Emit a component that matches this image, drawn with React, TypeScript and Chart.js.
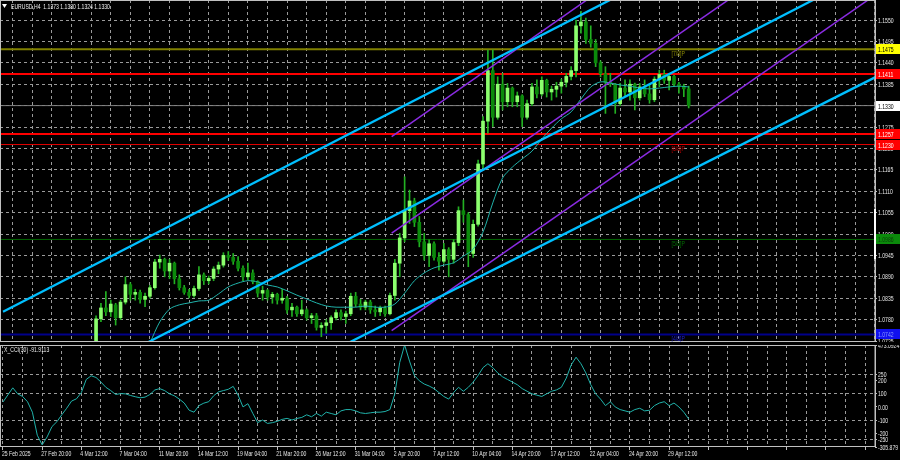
import React, { useEffect, useRef } from "react";
import { Chart, registerables } from "chart.js";

Chart.register(...registerables);

// ---------------- data ----------------
const symbolName = "EURUSD,H4";
const timeLabels = [
  "25 Feb 2025", "27 Feb 20:00", "4 Mar 12:00", "7 Mar 04:00", "11 Mar 20:00", "14 Mar 12:00",
  "19 Mar 04:00", "21 Mar 20:00", "26 Mar 12:00", "31 Mar 04:00", "2 Apr 20:00", "7 Apr 12:00",
  "10 Apr 04:00", "14 Apr 20:00", "17 Apr 12:00", "22 Apr 04:00", "24 Apr 20:00", "29 Apr 12:00",
];
const timeLabelEveryBars = 16;
const gridEveryBars = 8;
const firstVisibleBar = -1.225;
const lastVisibleBar = 356.07;

const priceAxisMin = 1.07225;
const priceAxisMax = 1.16014;
const priceTicks = [
  1.0725, 1.078, 1.0835, 1.089, 1.0945, 1.1, 1.1055, 1.111, 1.1165, 1.122, 1.1275, 1.133,
  1.1385, 1.144, 1.1495, 1.155,
];

const candleFirstBar = 38;
const candleStepBars = 2;
const opens = [
  1.0680, 1.0782, 1.0810, 1.0800, 1.0818, 1.0785, 1.0825, 1.0870, 1.0845, 1.0850,
  1.0832, 1.0840, 1.0862, 1.0928, 1.0935, 1.0905, 1.0925, 1.0885, 1.0862, 1.0850,
  1.0842, 1.0860, 1.0895, 1.0880, 1.0886, 1.0910, 1.0920, 1.0945, 1.0940, 1.0930,
  1.0912, 1.0890, 1.0900, 1.0878, 1.0848, 1.0855, 1.0838, 1.0845, 1.0830, 1.0835,
  1.0805, 1.0812, 1.0795, 1.0805, 1.0785, 1.0790, 1.0760, 1.0765, 1.0772, 1.0785,
  1.0798, 1.0788, 1.0795, 1.0840, 1.0820, 1.0812, 1.0825, 1.0805, 1.0800, 1.0810,
  1.0795, 1.0842, 1.0925, 1.0990, 1.1060, 1.1085, 1.1030, 1.0980, 1.0945, 1.0975,
  1.0940, 1.0930, 1.0960, 1.0935, 1.0978, 1.1060, 1.1050, 1.0950, 1.1025, 1.1180,
  1.1290, 1.1420, 1.1300, 1.1385, 1.1340, 1.1375, 1.1340, 1.1355, 1.1300, 1.1335,
  1.1378, 1.1360, 1.1395, 1.1365, 1.1372, 1.1380, 1.1390, 1.1405, 1.1420, 1.1535,
  1.1545, 1.1500, 1.1490, 1.1440, 1.1412, 1.1390, 1.1385, 1.1335, 1.1375, 1.1365,
  1.1385, 1.1350, 1.1378, 1.1360, 1.1345, 1.1398, 1.1410, 1.1395, 1.1405, 1.1385,
  1.1380, 1.1373,
];
const highs = [
  1.0790, 1.0822, 1.0852, 1.0830, 1.0822, 1.0830, 1.0890, 1.0875, 1.0858, 1.0856,
  1.0848, 1.0868, 1.0935, 1.0946, 1.0938, 1.0935, 1.0928, 1.0895, 1.0868, 1.0858,
  1.0866, 1.0916, 1.0900, 1.0892, 1.0916, 1.0928, 1.0952, 1.0955, 1.0950, 1.0942,
  1.0918, 1.0925, 1.0908, 1.0880, 1.0866, 1.0858, 1.0850, 1.0848, 1.0858, 1.0840,
  1.0822, 1.0815, 1.0830, 1.0808, 1.0796, 1.0796, 1.0772, 1.0780, 1.0790, 1.0805,
  1.0805, 1.0802, 1.0848, 1.0850, 1.0832, 1.0830, 1.0830, 1.0815, 1.0815, 1.0815,
  1.0848, 1.0935, 1.1002, 1.1147, 1.1113, 1.1092, 1.1045, 1.1002, 1.0985, 1.0980,
  1.0952, 1.0976, 1.0965, 1.0985, 1.1070, 1.1087, 1.1055, 1.1036, 1.1190, 1.1302,
  1.1473, 1.1473, 1.1404, 1.1413, 1.1387, 1.1378, 1.1365, 1.1358, 1.1344, 1.1387,
  1.1396, 1.1404, 1.1398, 1.1380, 1.1390, 1.1398, 1.1413, 1.1430, 1.1550, 1.1572,
  1.1555, 1.1535, 1.1500, 1.1445, 1.1430, 1.1413, 1.1387, 1.1387, 1.1396, 1.1396,
  1.1388, 1.1387, 1.1396, 1.1385, 1.1404, 1.1421, 1.1421, 1.1413, 1.1408, 1.1390,
  1.1385, 1.1380,
];
const lows = [
  1.0670, 1.0775, 1.0790, 1.0788, 1.0766, 1.0780, 1.0820, 1.0830, 1.0830, 1.0822,
  1.0813, 1.0835, 1.0858, 1.0912, 1.0890, 1.0885, 1.0872, 1.0856, 1.0845, 1.0836,
  1.0838, 1.0855, 1.0870, 1.0872, 1.0880, 1.0898, 1.0915, 1.0932, 1.0922, 1.0905,
  1.0880, 1.0882, 1.0872, 1.0838, 1.0830, 1.0830, 1.0822, 1.0820, 1.0822, 1.0796,
  1.0788, 1.0788, 1.0790, 1.0779, 1.0770, 1.0753, 1.0736, 1.0745, 1.0755, 1.0779,
  1.0779, 1.0770, 1.0790, 1.0813, 1.0805, 1.0805, 1.0796, 1.0788, 1.0790, 1.0788,
  1.0792, 1.0830, 1.0890, 1.0980, 1.1027, 1.1019, 1.0967, 1.0933, 1.0916, 1.0933,
  1.0907, 1.0925, 1.0890, 1.0925, 1.0970, 1.1030, 1.0916, 1.0940, 1.1020, 1.1170,
  1.1259, 1.1276, 1.1295, 1.1319, 1.1327, 1.1327, 1.1327, 1.1276, 1.1295, 1.1330,
  1.1350, 1.1355, 1.1352, 1.1344, 1.1352, 1.1362, 1.1378, 1.1396, 1.1404, 1.1516,
  1.1490, 1.1480, 1.1430, 1.1404, 1.1310, 1.1379, 1.1310, 1.1330, 1.1353, 1.1344,
  1.1319, 1.1344, 1.1353, 1.1336, 1.1340, 1.1379, 1.1387, 1.1370, 1.1379, 1.1362,
  1.1353, 1.1324,
];
const closes = [
  1.0782, 1.0810, 1.0800, 1.0820, 1.0785, 1.0825, 1.0870, 1.0845, 1.0850, 1.0832,
  1.0840, 1.0862, 1.0928, 1.0935, 1.0905, 1.0925, 1.0885, 1.0862, 1.0850, 1.0842,
  1.0860, 1.0895, 1.0880, 1.0886, 1.0910, 1.0920, 1.0945, 1.0940, 1.0930, 1.0912,
  1.0890, 1.0900, 1.0878, 1.0848, 1.0855, 1.0838, 1.0845, 1.0830, 1.0835, 1.0805,
  1.0812, 1.0795, 1.0805, 1.0785, 1.0790, 1.0760, 1.0765, 1.0772, 1.0785, 1.0798,
  1.0788, 1.0795, 1.0840, 1.0820, 1.0812, 1.0825, 1.0805, 1.0800, 1.0810, 1.0795,
  1.0842, 1.0925, 1.0990, 1.1060, 1.1085, 1.1030, 1.0980, 1.0945, 1.0975, 1.0940,
  1.0930, 1.0960, 1.0935, 1.0978, 1.1060, 1.1050, 1.0950, 1.1025, 1.1180, 1.1290,
  1.1420, 1.1300, 1.1385, 1.1340, 1.1375, 1.1340, 1.1355, 1.1300, 1.1335, 1.1378,
  1.1360, 1.1395, 1.1365, 1.1372, 1.1380, 1.1390, 1.1405, 1.1420, 1.1535, 1.1545,
  1.1500, 1.1490, 1.1440, 1.1412, 1.1390, 1.1385, 1.1335, 1.1375, 1.1365, 1.1385,
  1.1350, 1.1378, 1.1360, 1.1345, 1.1398, 1.1410, 1.1395, 1.1405, 1.1385, 1.1380,
  1.1373, 1.1330,
];

const maFirstBar = 60;
const maStepBars = 4;
const maValues = [
  1.0720, 1.0774, 1.0807, 1.0818, 1.0823, 1.0828, 1.0830, 1.0846, 1.0864, 1.0874,
  1.0880, 1.0877, 1.0869, 1.0864, 1.0854, 1.0843, 1.0833, 1.0823, 1.0815, 1.0812,
  1.0812, 1.0812, 1.0815, 1.0812, 1.0812, 1.0820, 1.0848, 1.0880, 1.0900, 1.0913,
  1.0920, 1.0926, 1.0943, 1.0961, 1.1005, 1.1080, 1.1144, 1.1172, 1.1193, 1.1213,
  1.1244, 1.1272, 1.1296, 1.1314, 1.1347, 1.1378, 1.1391, 1.1388, 1.1383, 1.1380,
  1.1375, 1.1373, 1.1375, 1.1378, 1.1380, 1.1378,
];

const cciName = "X_CCI(30)";
const cciFirstBar = 0;
const cciStepBars = 2;
const cciValues = [
  38, 92, 146, 100, 80, 40, -40, -216, -290, -229,
  -150, -113, -60, -10, 45, 62, 110, 210, 238, 225,
  190, 150, 125, 95, 102, 100, 88, 78, 70, 75,
  95, 130, 140, 125, 100, 85, 60, 30, -25, -40,
  10, 29, 40, 85, 115, 125, 135, 157, 90, 0,
  25, -49, -120, -100, -126, -120, -110, -95, -87, -100,
  -88, -80, -60, -75, -50, -70, -40, -50, -60, -30,
  -20, -20, -30, -45, -50, -45, -40, -40, -35, -20,
  100, 340, 473.0924, 350, 240, 200, 175, 160, 140, 110,
  80, 60, 110, 150, 120, 150, 190, 240, 300, 330,
  300, 260, 230, 210, 190, 170, 140, 120, 100, 90,
  80, 100, 120, 130, 150, 220, 320, 380, 330, 260,
  170, 100, 60, 10, 40, 0, -20, -30, -40, -20,
  -10, -30, -25, 10, 30, 40, 10, 30, 0, -40,
  -91.9113,
];
const cciAxisMin = -305.879;
const cciAxisMax = 473.0924;
const cciTicks = [473.0924, 250, 200, 100, 0, -100, -200, -250, -305.879];
const cciTickLabels = ["473.0924", "250", "200", "100", "0.00", "-100", "-200", "-250", "-305.879"];
const cciGridLevels = [250, 100, -100, -250];

const levelPrices = [1.1475, 1.1411, 1.133, 1.1257, 1.123, 1.0986, 1.0742];
const levelLabels = ["1.1475", "1.1411", "1.1330", "1.1257", "1.1230", "1.0986", "1.0742"];
const murreyNames = ["[7/8]P", "[6/8]P", "[5/8]P", "[4/8]P"];
const murreyPrices = [1.1475, 1.123, 1.0986, 1.0742];
const murreyLabelBar = 273;

const cyanChannelBars = [[0, 360], [0, 360], [100, 360]];
const cyanChannelPrices = [[1.08, 1.1964], [1.053, 1.1696], [1.059, 1.1415]];
const violetChannelBars = [[158.7, 360], [158.7, 360], [158.7, 360]];
const violetChannelPrices = [[1.125, 1.2138], [1.1002, 1.188], [1.0752, 1.1631]];

// ---------------- styles ----------------
const FONT = "'Liberation Sans', Arial, sans-serif";
const FONT_PX = 7.5;
const SQUEEZE = 0.68;
const TEXT = "#e6e6e6";
const GRID = "#9a9a9a";
const FRAME = "#c0c0c0";
const levelStyles = [
  { color: "#808000", width: 2, bg: "#ffff00", fg: "#000000" },
  { color: "#ff0000", width: 2, bg: "#ff0000", fg: "#ffffff" },
  { color: "#808080", width: 1, bg: "#ffffff", fg: "#000000" },
  { color: "#ff0000", width: 2, bg: "#ff0000", fg: "#ffffff" },
  { color: "#e00000", width: 1, bg: "#ff0000", fg: "#ffffff" },
  { color: "#006400", width: 1, bg: "#0b8a0b", fg: "#0b3d0b" },
  { color: "#00008b", width: 2, bg: "#1010ee", fg: "#8a9aff" },
];
const murreyColors = ["#909000", "#c00000", "#007000", "#2020d0"];

const gridBars: number[] = [];
for (let b = 0; b <= lastVisibleBar; b += gridEveryBars) gridBars.push(b);

function squeezedText(ctx: CanvasRenderingContext2D, text: string, x: number, y: number, color: string) {
  ctx.save();
  ctx.translate(x, y);
  ctx.scale(SQUEEZE, 1);
  ctx.font = `${FONT_PX}px ${FONT}`;
  ctx.textAlign = "left";
  ctx.textBaseline = "middle";
  ctx.fillStyle = color;
  ctx.fillText(text, 0, 0);
  ctx.restore();
}

export default function App() {
  const mainRef = useRef<HTMLCanvasElement>(null);
  const cciRef = useRef<HTMLCanvasElement>(null);

  useEffect(() => {
    const candleBars = opens.map((_, k) => candleFirstBar + k * candleStepBars);
    const bodyColors = opens.map((o, k) => (closes[k] >= o ? "#8cff6e" : "#0b8a0b"));

    const lineDs = (pts: { x: number; y: number }[], color: string, width: number, order: number, tension = 0) => ({
      type: "line" as const,
      data: pts,
      borderColor: color,
      borderWidth: width,
      pointRadius: 0,
      tension,
      order,
    });

    const datasets: any[] = [];
    levelPrices.forEach((p, i) => {
      datasets.push(
        lineDs([{ x: firstVisibleBar - 5, y: p }, { x: lastVisibleBar + 5, y: p }], levelStyles[i].color, levelStyles[i].width, 20)
      );
    });
    datasets.push({
      type: "bar",
      data: candleBars.map((b, k) => ({ x: b, y: [lows[k], highs[k]] })),
      backgroundColor: "#22b022",
      barThickness: 1,
      grouped: false,
      order: 12,
    });
    datasets.push({
      type: "bar",
      data: candleBars.map((b, k) => ({ x: b, y: [opens[k], closes[k]] })),
      backgroundColor: bodyColors,
      barThickness: 3,
      grouped: false,
      order: 11,
    });
    datasets.push(
      lineDs(maValues.map((v, k) => ({ x: maFirstBar + k * maStepBars, y: v })), "#20b2aa", 1, 5, 0.3)
    );
    violetChannelBars.forEach((bars, i) => {
      datasets.push(
        lineDs([{ x: bars[0], y: violetChannelPrices[i][0] }, { x: bars[1], y: violetChannelPrices[i][1] }], "#8a2be2", 1.5, 3)
      );
    });
    cyanChannelBars.forEach((bars, i) => {
      datasets.push(
        lineDs([{ x: bars[0], y: cyanChannelPrices[i][0] }, { x: bars[1], y: cyanChannelPrices[i][1] }], "#00bfff", 2.3, 2)
      );
    });

    const mainOverlay = {
      id: "mainOverlay",
      afterDraw(chart: any) {
        const { ctx, chartArea: a, scales } = chart;
        const y = scales.y;
        const x = scales.x;
        ctx.save();
        ctx.strokeStyle = FRAME;
        ctx.lineWidth = 1;
        ctx.strokeRect(a.left + 0.5, a.top + 0.5, a.right - a.left - 0.5, a.bottom - a.top - 1);
        priceTicks.forEach((p) => {
          squeezedText(ctx, p.toFixed(4), a.right + 3, y.getPixelForValue(p) + 0.5, TEXT);
        });
        murreyPrices.forEach((p, i) => {
          squeezedText(ctx, murreyNames[i], x.getPixelForValue(murreyLabelBar), y.getPixelForValue(p) + 4.5, murreyColors[i]);
        });
        levelPrices.forEach((p, i) => {
          const py = Math.round(y.getPixelForValue(p));
          ctx.fillStyle = levelStyles[i].bg;
          ctx.fillRect(a.right + 1, py - 5, 24, 10);
          squeezedText(ctx, levelLabels[i], a.right + 3, py + 0.5, levelStyles[i].fg);
        });
        ctx.fillStyle = "#ffffff";
        ctx.fillRect(a.right - 1, 209, 2, 50);
        const n = closes.length - 1;
        ctx.fillStyle = "#ffffff";
        ctx.beginPath();
        ctx.moveTo(2, 4);
        ctx.lineTo(7, 4);
        ctx.lineTo(4.5, 8);
        ctx.closePath();
        ctx.fill();
        squeezedText(
          ctx,
          `${symbolName}  ${opens[n].toFixed(4)} ${highs[n].toFixed(4)} ${lows[n].toFixed(4)} ${closes[n].toFixed(4)}`,
          11,
          6.5,
          "#f0f0f0"
        );
        ctx.restore();
      },
    };

    const main = new Chart(mainRef.current as HTMLCanvasElement, {
      type: "bar",
      data: { datasets },
      options: {
        responsive: false,
        animation: false,
        events: [],
        layout: { padding: 0 },
        plugins: { legend: { display: false }, tooltip: { enabled: false } },
        scales: {
          x: {
            type: "linear",
            min: firstVisibleBar,
            max: lastVisibleBar,
            offset: false,
            afterBuildTicks: (s: any) => {
              s.ticks = gridBars.map((v) => ({ value: v }));
            },
            ticks: { display: false },
            grid: { color: GRID, drawTicks: false },
            border: { display: false, dash: [3, 3] },
            afterFit: (s: any) => {
              s.height = 0;
              s.paddingLeft = 0;
              s.paddingRight = 0;
            },
          },
          y: {
            type: "linear",
            position: "right",
            min: priceAxisMin,
            max: priceAxisMax,
            afterBuildTicks: (s: any) => {
              s.ticks = priceTicks.map((v) => ({ value: v }));
            },
            ticks: { display: false },
            grid: { color: GRID, tickLength: 2, tickColor: FRAME, tickBorderDash: [] },
            border: { display: true, color: FRAME, dash: [3, 3] },
            afterFit: (s: any) => {
              s.width = 25;
              s.paddingTop = 0;
              s.paddingBottom = 0;
            },
          },
        },
      } as any,
      plugins: [mainOverlay],
    });

    const cciOverlay = {
      id: "cciOverlay",
      afterDraw(chart: any) {
        const { ctx, chartArea: a, scales } = chart;
        ctx.save();
        ctx.strokeStyle = FRAME;
        ctx.lineWidth = 1;
        ctx.strokeRect(a.left + 0.5, a.top + 0.5, a.right - a.left - 0.5, a.bottom - a.top - 1);
        cciTicks.forEach((v, i) => {
          squeezedText(ctx, cciTickLabels[i], a.right + 3, scales.y.getPixelForValue(v) + 0.5, TEXT);
        });
        timeLabels.forEach((t, i) => {
          squeezedText(ctx, t, scales.x.getPixelForValue(i * timeLabelEveryBars) - 1, a.bottom + 6.5, TEXT);
        });
        squeezedText(ctx, `${cciName} ${cciValues[cciValues.length - 1].toFixed(4)}`, 4, 4.5, "#f0f0f0");
        ctx.restore();
      },
    };

    const cci = new Chart(cciRef.current as HTMLCanvasElement, {
      type: "line",
      data: {
        datasets: [
          {
            data: cciValues.map((v, j) => ({ x: cciFirstBar + j * cciStepBars, y: v })),
            borderColor: "#20b2aa",
            borderWidth: 1,
            pointRadius: 0,
          },
        ],
      },
      options: {
        responsive: false,
        animation: false,
        events: [],
        layout: { padding: 0 },
        plugins: { legend: { display: false }, tooltip: { enabled: false } },
        scales: {
          x: {
            type: "linear",
            min: firstVisibleBar,
            max: lastVisibleBar,
            offset: false,
            afterBuildTicks: (s: any) => {
              s.ticks = gridBars.map((v) => ({ value: v }));
            },
            ticks: { display: false },
            grid: {
              color: GRID,
              drawTicks: true,
              tickLength: 3,
              tickColor: (c: any) => (c.tick && c.tick.value % timeLabelEveryBars === 0 ? FRAME : "rgba(0,0,0,0)"),
              tickBorderDash: [],
            },
            border: { display: false, dash: [3, 3] },
            afterFit: (s: any) => {
              s.height = 13;
              s.paddingLeft = 0;
              s.paddingRight = 0;
            },
          },
          y: {
            type: "linear",
            position: "right",
            min: cciAxisMin,
            max: cciAxisMax,
            afterBuildTicks: (s: any) => {
              s.ticks = cciTicks.map((v) => ({ value: v }));
            },
            ticks: { display: false },
            grid: {
              color: (c: any) => (cciGridLevels.includes(c.tick?.value) ? GRID : "rgba(0,0,0,0)"),
              tickLength: 2,
              tickColor: FRAME,
              tickBorderDash: [],
            },
            border: { display: true, color: FRAME, dash: [3, 3] },
            afterFit: (s: any) => {
              s.width = 25;
              s.paddingTop = 0;
              s.paddingBottom = 0;
            },
          },
        },
      } as any,
      plugins: [cciOverlay],
    });

    return () => {
      main.destroy();
      cci.destroy();
    };
  }, []);

  return (
    <div style={{ position: "fixed", left: 0, top: 0, width: 900, height: 460, background: "#000" }}>
      <canvas ref={mainRef} width={900} height={342} style={{ position: "absolute", left: 0, top: 0 }} />
      <canvas ref={cciRef} width={900} height={115} style={{ position: "absolute", left: 0, top: 345 }} />
    </div>
  );
}
